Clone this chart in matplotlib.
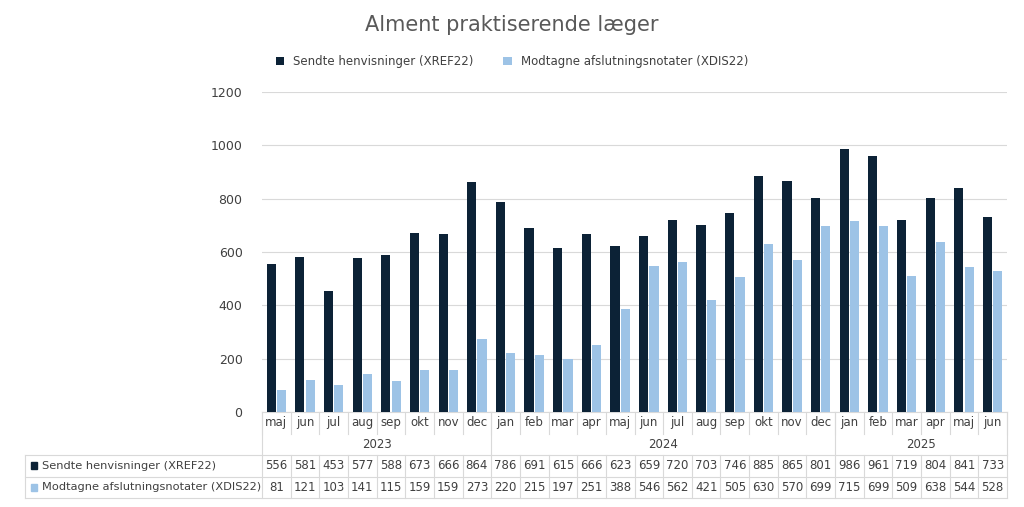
import matplotlib
matplotlib.use("Agg")
import matplotlib.pyplot as plt
from matplotlib.transforms import blended_transform_factory
from matplotlib.patches import Rectangle
import numpy as np

months = ["maj","jun","jul","aug","sep","okt","nov","dec",
          "jan","feb","mar","apr","maj","jun","jul","aug","sep","okt","nov","dec",
          "jan","feb","mar","apr","maj","jun"]
years = ["2023", "2024", "2025"]
year_counts = [8, 12, 6]
sent = [556,581,453,577,588,673,666,864,786,691,615,666,623,659,720,703,746,885,865,801,986,961,719,804,841,733]
recv = [81,121,103,141,115,159,159,273,220,215,197,251,388,546,562,421,505,630,570,699,715,699,509,638,544,528]
s1 = "Sendte henvisninger (XREF22)"
s2 = "Modtagne afslutningsnotater (XDIS22)"
c1, c2 = "#0c2236", "#9dc3e6"
grid = "#d9d9d9"; txt = "#404040"
fs = 8.5

fig = plt.figure(figsize=(10.24, 5.07), dpi=100)
ax = fig.add_axes([262/1024, 95/507, 745/1024, 320/507])
n = len(months); x = np.arange(n); w = 0.32
ax.bar(x - w/2 - 0.02, sent, w, color=c1, label=s1, zorder=3)
ax.bar(x + w/2 + 0.02, recv, w, color=c2, label=s2, zorder=3)
ax.set_xlim(-0.5, n - 0.5); ax.set_ylim(0, 1200)
ax.set_yticks(range(0, 1201, 200))
ax.yaxis.grid(True, color=grid, lw=0.8, zorder=0)
for sp in ax.spines.values(): sp.set_visible(False)
ax.spines["bottom"].set_visible(True); ax.spines["bottom"].set_color(grid)
ax.tick_params(axis="y", length=0, labelsize=9, colors=txt, pad=14)
ax.tick_params(axis="x", length=0, labelbottom=False)

fig.text(0.5, 0.95, "Alment praktiserende læger", ha="center", va="center", fontsize=15, color="#595959")
fig.legend(loc="center", bbox_to_anchor=(0.5, 0.878), ncol=2, frameon=False, fontsize=8.5,
           handlelength=0.7, handleheight=0.7, columnspacing=2.5, labelcolor=txt)

tr = blended_transform_factory(ax.transData, ax.transAxes)
rh = 21.5/320
lc = dict(color=grid, lw=0.8, clip_on=False, transform=tr)
for i, m in enumerate(months):
    ax.text(i, -rh/2, m, ha="center", va="center", fontsize=fs, color=txt, transform=tr)
for b in range(n + 1):
    ax.plot([b - 0.5, b - 0.5], [0, -rh], **lc)
start = 0
for y, c in zip(years, year_counts):
    ax.text(start + c/2 - 0.5, -1.5*rh, y, ha="center", va="center", fontsize=fs, color=txt, transform=tr)
    ax.plot([start - 0.5]*2, [0, -2*rh], **lc)
    start += c
ax.plot([n - 0.5]*2, [0, -2*rh], **lc)
left = (25 - 262) / (745 / n) - 0.5
for r in range(3):
    ax.plot([left, n - 0.5], [-(2 + r)*rh]*2, **lc)
for b in range(n + 1):
    ax.plot([b - 0.5]*2, [-2*rh, -4*rh], **lc)
ax.plot([left]*2, [-2*rh, -4*rh], **lc)
for r, (vals, lab, col) in enumerate([(sent, s1, c1), (recv, s2, c2)]):
    yc = -(2.5 + r)*rh
    for i, v in enumerate(vals):
        ax.text(i, yc, str(v), ha="center", va="center", fontsize=fs, color=txt, transform=tr)
    ax.add_patch(Rectangle((left + 0.2, yc - 0.011), 0.22, 0.022, color=col, transform=tr, clip_on=False))
    ax.text(left + 0.6, yc, lab, ha="left", va="center", fontsize=8.2, color=txt, transform=tr)

fig.savefig("out.png", dpi=100, facecolor="white")
